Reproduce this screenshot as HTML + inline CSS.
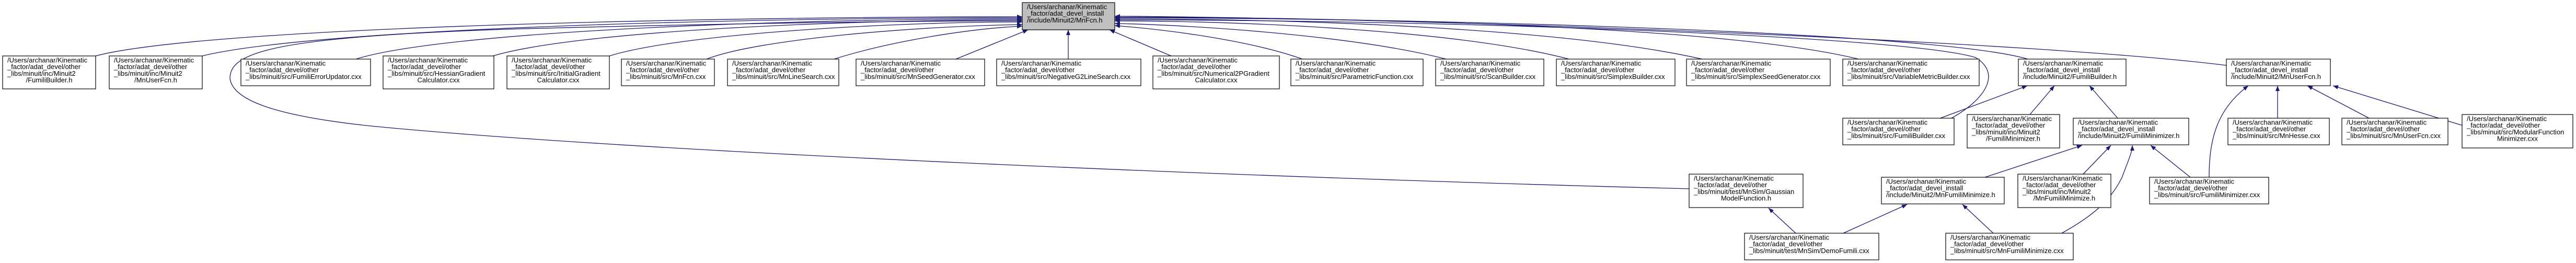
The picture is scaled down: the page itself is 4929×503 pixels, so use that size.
<!DOCTYPE html>
<html><head><meta charset="utf-8"><style>
html,body{margin:0;padding:0;background:#fff}
svg{display:block}
text{font-family:"Liberation Sans",Arial,sans-serif;font-size:13px;fill:#000}
.b{fill:#fff;stroke:#000;stroke-width:1.2}
.e{fill:none;stroke:#191970;stroke-width:1.3}
.m{text-anchor:middle}
</style></head><body>
<svg width="4929" height="503" viewBox="0 0 4929 503" xmlns="http://www.w3.org/2000/svg">
<defs><marker id="a" viewBox="0 0 10 8" refX="10" refY="4" markerWidth="10" markerHeight="8" markerUnits="userSpaceOnUse" orient="auto"><path d="M0,0 L10,4 L0,8 z" fill="#191970"/></marker></defs>

<!-- edges to root -->
<g class="e" marker-end="url(#a)">
<path d="M183,107 C400,50 1400,32 1956,32"/>
<path d="M387,107 C600,55 1400,34 1956,34"/>
<path d="M681,113 C850,60 1500,36 1956,36"/>
<path d="M943,107 C1100,60 1600,38 1956,38"/>
<path d="M1166,107 C1300,65 1700,42 1956,42"/>
<path d="M1352,113 C1450,75 1750,50 1956,47"/>
<path d="M1596,113 C1700,80 1850,55 1956,50"/>
<path d="M1829,113 L1967,57"/>
<path d="M2044,113 L2044,57"/>
<path d="M2241,107 L2123,57"/>
<path d="M2492,113 C2400,80 2250,58 2133,49"/>
<path d="M2767,113 C2600,70 2300,48 2133,45"/>
<path d="M3002,113 C2800,60 2400,40 2133,40"/>
<path d="M3257,113 C3000,55 2500,36 2133,36"/>
<path d="M3556,113 C3300,50 2600,33 2133,33"/>
<path d="M3880,113 C3700,60 2700,34 2133,34"/>
<path d="M4260,125 C3900,80 2800,36 2133,31"/>
<path d="M3732,227 C3800,190 3830,140 3780,110 C3650,70 2800,38 2133,38"/>
<path d="M3232,361 C2400,340 1200,290 700,240 C520,220 445,190 440,150 C440,100 520,70 1000,55 C1500,42 1800,40 1956,40"/>
</g>
<!-- other edges -->
<g class="e" marker-end="url(#a)">
<path d="M3710,227 L3879,164"/>
<path d="M3884,219 L3931,164"/>
<path d="M4052,226 L3998,164"/>
<path d="M4358,226 L4358,164"/>
<path d="M4533,226 L4415,164"/>
<path d="M4712,240 L4464,164"/>
<path d="M4227,339 C4227,270 4240,210 4302,164"/>
<path d="M3798,339 L3984,278"/>
<path d="M3986,333 L4039,278"/>
<path d="M4191,339 L4115,278"/>
<path d="M3945,446 C4010,410 4040,380 4060,340 C4075,300 4080,290 4080,278"/>
<path d="M3527,446 L3649,391"/>
<path d="M3814,446 L3755,391"/>
<path d="M3436,446 L3384,398"/>
</g>

<!-- root -->
<rect x="1956" y="5" width="177" height="52" fill="#bfbfbf" stroke="#000" stroke-width="1.2"/>
<text x="1965" y="17.5">/Users/archanar/Kinematic</text><text x="1965" y="30.2">_factor/adat_devel_install</text><text x="1965" y="42.9">/include/Minuit2/MnFcn.h</text>

<!-- row1 -->
<rect class="b" x="5" y="107" width="178" height="63"/>
<text x="14" y="119.5">/Users/archanar/Kinematic</text><text x="14" y="132.2">_factor/adat_devel/other</text><text x="14" y="144.9">_libs/minuit/inc/Minuit2</text><text class="m" x="94" y="157.6">/FumiliBuilder.h</text>

<rect class="b" x="209" y="107" width="178" height="63"/>
<text x="218" y="119.5">/Users/archanar/Kinematic</text><text x="218" y="132.2">_factor/adat_devel/other</text><text x="218" y="144.9">_libs/minuit/inc/Minuit2</text><text class="m" x="298" y="157.6">/MnUserFcn.h</text>

<rect class="b" x="461" y="113" width="248" height="51"/>
<text x="470" y="125.5">/Users/archanar/Kinematic</text><text x="470" y="138.2">_factor/adat_devel/other</text><text x="470" y="150.9">_libs/minuit/src/FumiliErrorUpdator.cxx</text>

<rect class="b" x="733" y="107" width="212" height="63"/>
<text x="742" y="119.5">/Users/archanar/Kinematic</text><text x="742" y="132.2">_factor/adat_devel/other</text><text x="742" y="144.9">_libs/minuit/src/HessianGradient</text><text class="m" x="839" y="157.6">Calculator.cxx</text>

<rect class="b" x="970" y="107" width="196" height="63"/>
<text x="979" y="119.5">/Users/archanar/Kinematic</text><text x="979" y="132.2">_factor/adat_devel/other</text><text x="979" y="144.9">_libs/minuit/src/InitialGradient</text><text class="m" x="1068" y="157.6">Calculator.cxx</text>

<rect class="b" x="1189" y="113" width="178" height="51"/>
<text x="1198" y="125.5">/Users/archanar/Kinematic</text><text x="1198" y="138.2">_factor/adat_devel/other</text><text x="1198" y="150.9">_libs/minuit/src/MnFcn.cxx</text>

<rect class="b" x="1392" y="113" width="213" height="51"/>
<text x="1401" y="125.5">/Users/archanar/Kinematic</text><text x="1401" y="138.2">_factor/adat_devel/other</text><text x="1401" y="150.9">_libs/minuit/src/MnLineSearch.cxx</text>

<rect class="b" x="1638" y="113" width="246" height="51"/>
<text x="1647" y="125.5">/Users/archanar/Kinematic</text><text x="1647" y="138.2">_factor/adat_devel/other</text><text x="1647" y="150.9">_libs/minuit/src/MnSeedGenerator.cxx</text>

<rect class="b" x="1907" y="113" width="276" height="51"/>
<text x="1916" y="125.5">/Users/archanar/Kinematic</text><text x="1916" y="138.2">_factor/adat_devel/other</text><text x="1916" y="150.9">_libs/minuit/src/NegativeG2LineSearch.cxx</text>

<rect class="b" x="2206" y="107" width="242" height="63"/>
<text x="2215" y="119.5">/Users/archanar/Kinematic</text><text x="2215" y="132.2">_factor/adat_devel/other</text><text x="2215" y="144.9">_libs/minuit/src/Numerical2PGradient</text><text class="m" x="2327" y="157.6">Calculator.cxx</text>

<rect class="b" x="2470" y="113" width="253" height="51"/>
<text x="2479" y="125.5">/Users/archanar/Kinematic</text><text x="2479" y="138.2">_factor/adat_devel/other</text><text x="2479" y="150.9">_libs/minuit/src/ParametricFunction.cxx</text>

<rect class="b" x="2747" y="113" width="207" height="51"/>
<text x="2756" y="125.5">/Users/archanar/Kinematic</text><text x="2756" y="138.2">_factor/adat_devel/other</text><text x="2756" y="150.9">_libs/minuit/src/ScanBuilder.cxx</text>

<rect class="b" x="2978" y="113" width="227" height="51"/>
<text x="2987" y="125.5">/Users/archanar/Kinematic</text><text x="2987" y="138.2">_factor/adat_devel/other</text><text x="2987" y="150.9">_libs/minuit/src/SimplexBuilder.cxx</text>

<rect class="b" x="3227" y="113" width="275" height="51"/>
<text x="3236" y="125.5">/Users/archanar/Kinematic</text><text x="3236" y="138.2">_factor/adat_devel/other</text><text x="3236" y="150.9">_libs/minuit/src/SimplexSeedGenerator.cxx</text>

<rect class="b" x="3526" y="113" width="261" height="51"/>
<text x="3535" y="125.5">/Users/archanar/Kinematic</text><text x="3535" y="138.2">_factor/adat_devel/other</text><text x="3535" y="150.9">_libs/minuit/src/VariableMetricBuilder.cxx</text>

<rect class="b" x="3862" y="113" width="206" height="51"/>
<text x="3871" y="125.5">/Users/archanar/Kinematic</text><text x="3871" y="138.2">_factor/adat_devel_install</text><text x="3871" y="150.9">/include/Minuit2/FumiliBuilder.h</text>

<rect class="b" x="4260" y="113" width="199" height="51"/>
<text x="4269" y="125.5">/Users/archanar/Kinematic</text><text x="4269" y="138.2">_factor/adat_devel_install</text><text x="4269" y="150.9">/include/Minuit2/MnUserFcn.h</text>

<!-- row2 -->
<rect class="b" x="3526" y="226" width="213" height="51"/>
<text x="3535" y="238.5">/Users/archanar/Kinematic</text><text x="3535" y="251.2">_factor/adat_devel/other</text><text x="3535" y="263.9">_libs/minuit/src/FumiliBuilder.cxx</text>

<rect class="b" x="3764" y="219" width="177" height="64"/>
<text x="3773" y="231.5">/Users/archanar/Kinematic</text><text x="3773" y="244.2">_factor/adat_devel/other</text><text x="3773" y="256.9">_libs/minuit/inc/Minuit2</text><text class="m" x="3852" y="269.6">/FumiliMinimizer.h</text>

<rect class="b" x="3967" y="226" width="221" height="51"/>
<text x="3976" y="238.5">/Users/archanar/Kinematic</text><text x="3976" y="251.2">_factor/adat_devel_install</text><text x="3976" y="263.9">/include/Minuit2/FumiliMinimizer.h</text>

<rect class="b" x="4263" y="226" width="194" height="51"/>
<text x="4272" y="238.5">/Users/archanar/Kinematic</text><text x="4272" y="251.2">_factor/adat_devel/other</text><text x="4272" y="263.9">_libs/minuit/src/MnHesse.cxx</text>

<rect class="b" x="4481" y="226" width="203" height="51"/>
<text x="4490" y="238.5">/Users/archanar/Kinematic</text><text x="4490" y="251.2">_factor/adat_devel/other</text><text x="4490" y="263.9">_libs/minuit/src/MnUserFcn.cxx</text>

<rect class="b" x="4711" y="219" width="212" height="64"/>
<text x="4720" y="231.5">/Users/archanar/Kinematic</text><text x="4720" y="244.2">_factor/adat_devel/other</text><text x="4720" y="256.9">_libs/minuit/src/ModularFunction</text><text class="m" x="4817" y="269.6">Minimizer.cxx</text>

<!-- row3 -->
<rect class="b" x="3232" y="333" width="218" height="64"/>
<text x="3241" y="345.5">/Users/archanar/Kinematic</text><text x="3241" y="358.2">_factor/adat_devel/other</text><text x="3241" y="370.9">_libs/minuit/test/MnSim/Gaussian</text><text class="m" x="3341" y="383.6">ModelFunction.h</text>

<rect class="b" x="3600" y="339" width="235" height="51"/>
<text x="3609" y="351.5">/Users/archanar/Kinematic</text><text x="3609" y="364.2">_factor/adat_devel_install</text><text x="3609" y="376.9">/include/Minuit2/MnFumiliMinimize.h</text>

<rect class="b" x="3861" y="333" width="178" height="64"/>
<text x="3870" y="345.5">/Users/archanar/Kinematic</text><text x="3870" y="358.2">_factor/adat_devel/other</text><text x="3870" y="370.9">_libs/minuit/inc/Minuit2</text><text class="m" x="3950" y="383.6">/MnFumiliMinimize.h</text>

<rect class="b" x="4113" y="339" width="228" height="51"/>
<text x="4122" y="351.5">/Users/archanar/Kinematic</text><text x="4122" y="364.2">_factor/adat_devel/other</text><text x="4122" y="376.9">_libs/minuit/src/FumiliMinimizer.cxx</text>

<!-- row4 -->
<rect class="b" x="3338" y="446" width="257" height="51"/>
<text x="3347" y="458.5">/Users/archanar/Kinematic</text><text x="3347" y="471.2">_factor/adat_devel/other</text><text x="3347" y="483.9">_libs/minuit/test/MnSim/DemoFumili.cxx</text>

<rect class="b" x="3723" y="446" width="244" height="51"/>
<text x="3732" y="458.5">/Users/archanar/Kinematic</text><text x="3732" y="471.2">_factor/adat_devel/other</text><text x="3732" y="483.9">_libs/minuit/src/MnFumiliMinimize.cxx</text>
</svg>
</body></html>
